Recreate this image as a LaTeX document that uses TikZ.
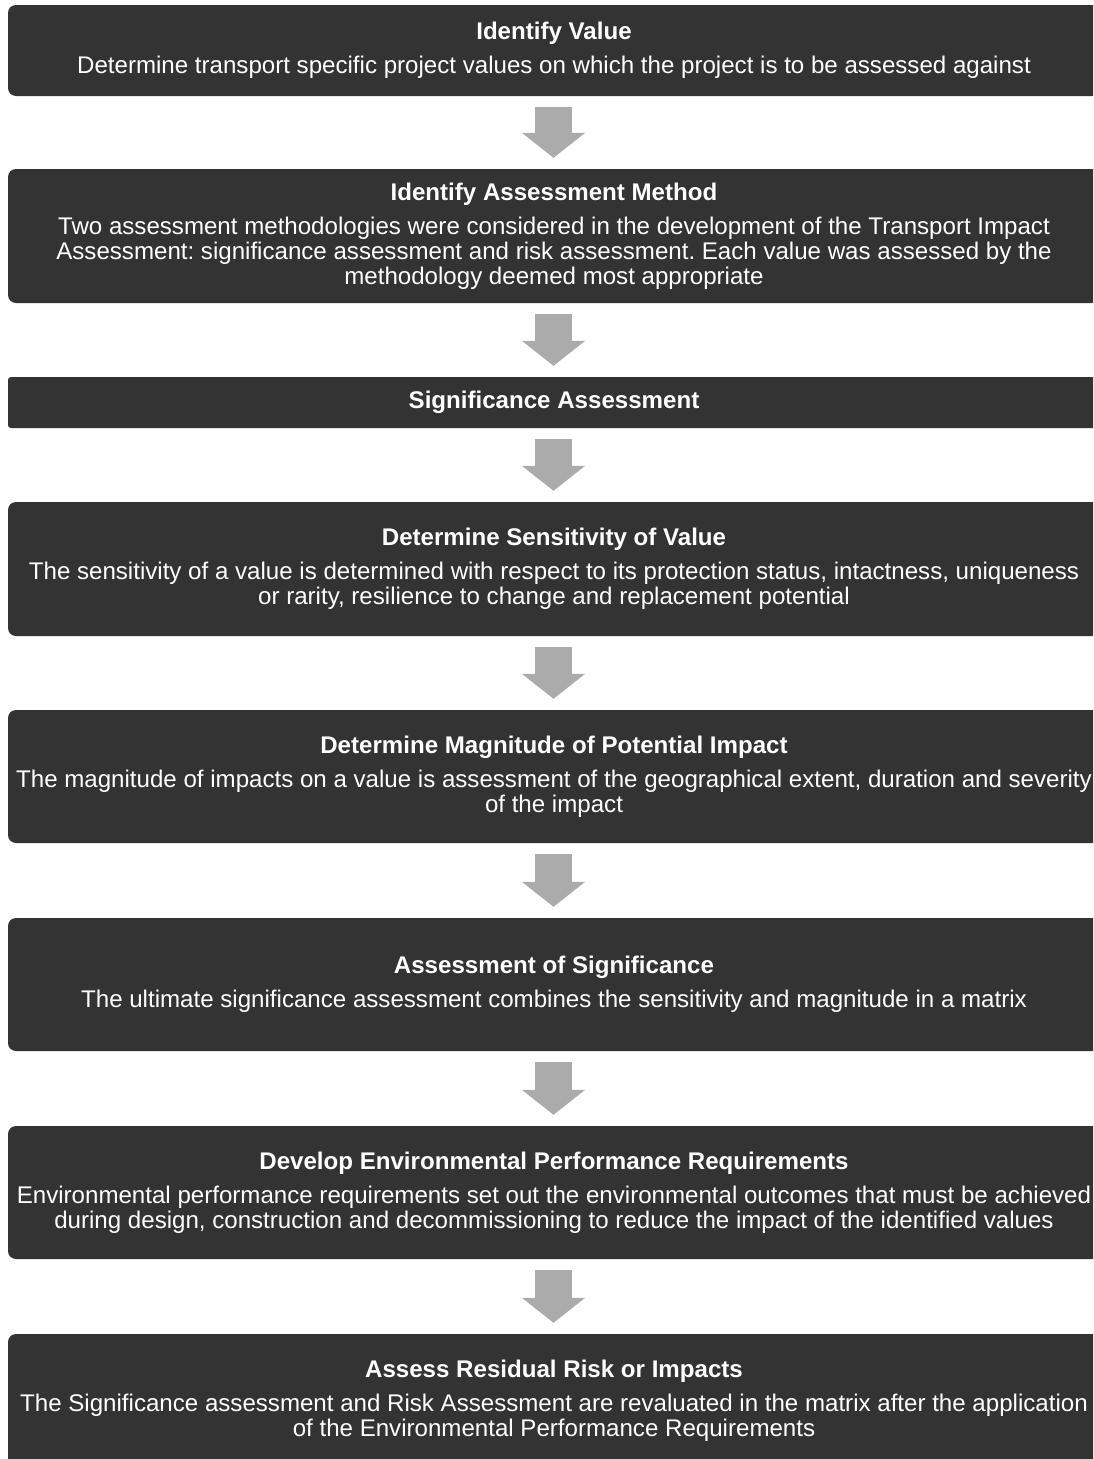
\documentclass[tikz,border=0pt]{standalone}
\usepackage{fontspec}
\setmainfont{Liberation Sans}
\usetikzlibrary{arrows.meta}
\frenchspacing
\definecolor{boxgray}{HTML}{333333}
\definecolor{arrowgray}{HTML}{ABABAB}
\tikzset{
  stage/.style={fill=boxgray, draw=none, rounded corners=8pt, text=white,
    align=center, minimum width=1092pt, inner sep=0pt,
    font=\fontsize{24.1}{25}\selectfont\frenchspacing},
  flowarrow/.style={draw=arrowgray, line width=37pt,
    -{Triangle[width=62pt,length=25pt]}},
}
\newcommand{\ttl}[1]{\textbf{#1}\\[9pt]}
\begin{document}
\begin{tikzpicture}[x=1pt,y=-1pt]
\useasboundingbox (0,0) rectangle (1093,1459);
\clip (0,0) rectangle (1093,1459);
\node[stage, minimum height=91pt] (b1) at (554,50.5)
  {\ttl{Identify Value}Determine transport specific project values on which the project is to be assessed against};
\node[stage, minimum height=134pt] (b2) at (554,236)
  {\ttl{Identify Assessment Method}Two assessment methodologies were considered in the development of the Transport Impact\\Assessment: significance assessment and risk assessment. Each value was assessed by the\\methodology deemed most appropriate};
\node[stage, minimum height=51pt, rounded corners=3pt] (b3) at (554,402.5)
  {\textbf{Significance Assessment}};
\node[stage, minimum height=134pt] (b4) at (554,569)
  {\ttl{Determine Sensitivity of Value}The sensitivity of a value is determined with respect to its protection status, intactness, uniqueness\\or rarity, resilience to change and replacement potential};
\node[stage, minimum height=133pt] (b5) at (554,776.5)
  {\ttl{Determine Magnitude of Potential Impact}The magnitude of impacts on a value is assessment of the geographical extent, duration and severity\\of the impact};
\node[stage, minimum height=133pt] (b6) at (554,984.5)
  {\ttl{Assessment of Significance}The ultimate significance assessment combines the sensitivity and magnitude in a matrix};
\node[stage, minimum height=133pt] (b7) at (554,1192.5)
  {\ttl{Develop Environmental Performance Requirements}Environmental performance requirements set out the environmental outcomes that must be achieved\\during design, construction and decommissioning to reduce the impact of the identified values};
\node[stage, minimum height=133pt] (b8) at (554,1400.5)
  {\ttl{Assess Residual Risk or Impacts}The Significance assessment and Risk Assessment are revaluated in the matrix after the application\\of the Environmental Performance Requirements};
\foreach \a/\b in {b1/b2,b2/b3,b3/b4,b4/b5,b5/b6,b6/b7,b7/b8}
  \draw[flowarrow] ([xshift=-0.5pt,yshift=-11pt]\a.south) -- ([xshift=-0.5pt,yshift=11pt]\b.north);
\end{tikzpicture}
\end{document}
